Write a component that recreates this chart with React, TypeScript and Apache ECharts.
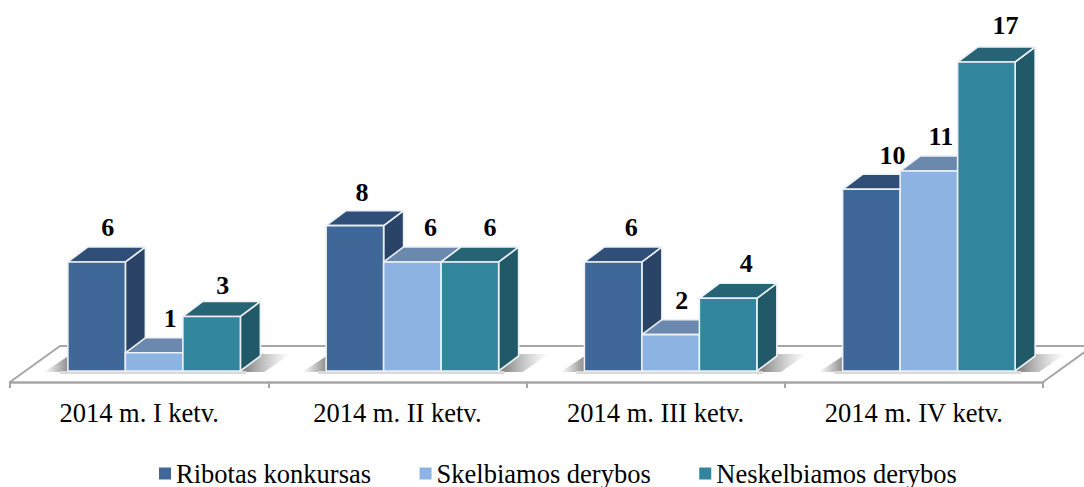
import React, { useEffect, useRef } from "react";
import * as echarts from "echarts";

const categories = ["2014 m. I ketv.", "2014 m. II ketv.", "2014 m. III ketv.", "2014 m. IV ketv."];
const seriesNames = ["Ribotas konkursas", "Skelbiamos derybos", "Neskelbiamos derybos"];
const ribotas = [6, 8, 6, 10];
const skelbiamos = [1, 6, 2, 11];
const neskelbiamos = [3, 6, 4, 17];

const frontColors = ["#3F6797", "#8DB3E2", "#31859C"];
const sideColors = ["#2A4467", "#6B88AE", "#215968"];
const topColors = ["#2F4F78", "#6B88AE", "#266475"];
// horizontal and vertical shifts of each value label from its default place
const labelNudgesX = [
  [11, 7, 18, 21],
  [16, 18, 11, 12],
  [11, 20, 18, 19],
];
const labelNudgesY = [
  [0, 1, 0, 0],
  [0, 0, 0, -1],
  [3, 0, -1, -3],
];

const FONT = '"Liberation Serif", "Times New Roman", serif';
const BAR_W = 57.5;
const DX = 20;
const DY = 15;
const GROUP_SHIFT = 15;
const FLOOR_FRONT = 11;
const FLOOR_BACK = 25;
const FLOOR_SKEW = 50;
const EDGE = "#EDF1F5";

const fade = (from: string, to: string) => ({
  type: "linear", x: 0, y: 0, x2: 1, y2: 0,
  colorStops: [{ offset: 0, color: from }, { offset: 1, color: to }],
});

const renderBar = (seriesIndex: number) => (params: any, api: any) => {
  const cat = api.value(0);
  const val = api.value(1);
  const [cx, top] = api.coord([cat, val]);
  const [, base] = api.coord([cat, 0]);
  const left = cx + GROUP_SHIFT - 1.5 * BAR_W + seriesIndex * BAR_W;
  const right = left + BAR_W;
  const edge = { stroke: EDGE, lineWidth: 1.6, lineJoin: "round" };
  return {
    type: "group",
    children: [
      {
        type: "polygon",
        shape: { points: [[right, top], [right + DX, top - DY], [right + DX, base - DY], [right, base]] },
        style: { fill: sideColors[seriesIndex], ...edge },
      },
      {
        type: "polygon",
        shape: { points: [[left, top], [right, top], [right + DX, top - DY], [left + DX, top - DY]] },
        style: { fill: topColors[seriesIndex], ...edge },
      },
      {
        type: "rect",
        shape: { x: left, y: top, width: BAR_W, height: base - top },
        style: { fill: frontColors[seriesIndex], ...edge },
      },
      {
        type: "text",
        z2: 100,
        style: {
          x: left + BAR_W / 2 + labelNudgesX[seriesIndex][cat],
          y: top - DY - 19 + labelNudgesY[seriesIndex][cat],
          text: String(val),
          fill: "#000",
          font: `bold 26px ${FONT}`,
          align: "center",
          verticalAlign: "middle",
        },
      },
    ],
  };
};

const renderFloor = (params: any, api: any) => {
  const cs = params.coordSys;
  const front = cs.y + cs.height + FLOOR_FRONT;
  const back = cs.y + cs.height - FLOOR_BACK;
  const l = cs.x;
  const r = cs.x + cs.width;
  const stroke = { stroke: "#A6A6A6", lineWidth: 2 };
  return {
    type: "group",
    children: [
      { type: "line", shape: { x1: l, y1: front, x2: l + FLOOR_SKEW, y2: back }, style: stroke },
      { type: "line", shape: { x1: l + FLOOR_SKEW, y1: back, x2: r + FLOOR_SKEW, y2: back }, style: stroke },
      { type: "line", shape: { x1: r, y1: front, x2: r + FLOOR_SKEW, y2: back }, style: stroke },
    ],
  };
};

const renderShadow = (params: any, api: any) => {
  const cat = api.value(0);
  const [cx, base] = api.coord([cat, 0]);
  const left = cx + GROUP_SHIFT - 1.5 * BAR_W;
  const right = left + 3 * BAR_W;
  return {
    type: "group",
    children: [
      {
        type: "polygon",
        shape: { points: [[left - 24, base + 1], [left + 2, base + 1], [left + 2, base - 16]] },
        style: { fill: fade("rgba(120,120,120,0)", "rgba(110,110,110,0.85)") },
      },
      {
        type: "polygon",
        shape: { points: [[right - 2, base + 1], [right + DX, base - DY - 2], [right + 50, base - DY - 2], [right + 24, base + 1]] },
        style: { fill: fade("rgba(100,100,100,0.95)", "rgba(160,160,160,0)") },
      },
      {
        type: "rect",
        shape: { x: left - 8, y: base, width: 3 * BAR_W + 14, height: 3 },
        style: { fill: "#DADADA" },
      },
    ],
  };
};

const toRows = (values: number[]) => values.map((v, i) => [i, v]);

export default function App() {
  const ref = useRef<HTMLDivElement>(null);
  useEffect(() => {
    const chart = echarts.init(ref.current!, undefined, { renderer: "svg" });
    const allValues = [ribotas, skelbiamos, neskelbiamos];
    chart.setOption({
      animation: false,
      backgroundColor: "#fff",
      grid: { left: 10, right: 41, top: 62, bottom: 116, containLabel: false },
      legend: {
        data: seriesNames,
        left: 159,
        top: 460,
        icon: "rect",
        itemWidth: 12,
        itemHeight: 12,
        itemGap: 48.5,
        padding: 0,
        textStyle: { fontFamily: FONT, fontSize: 26.5, color: "#000" },
      },
      xAxis: {
        type: "category",
        data: categories,
        offset: FLOOR_FRONT,
        axisLine: { onZero: false, lineStyle: { color: "#A6A6A6", width: 2.5 } },
        axisTick: { show: true, alignWithLabel: false, length: 6, lineStyle: { color: "#A6A6A6", width: 2 } },
        axisLabel: { margin: 17, fontFamily: FONT, fontSize: 26.5, color: "#000", interval: 0 },
      },
      yAxis: { type: "value", min: 0, max: 17, show: false, splitLine: { show: false } },
      series: [
        {
          name: "floor",
          type: "custom",
          coordinateSystem: "cartesian2d",
          data: [[0, 0]],
          encode: { x: 0, y: 1 },
          renderItem: renderFloor,
          silent: true,
          z: 1,
        },
        {
          name: "shadow",
          type: "custom",
          coordinateSystem: "cartesian2d",
          data: categories.map((_, i) => [i, 0]),
          encode: { x: 0, y: 1 },
          renderItem: renderShadow,
          silent: true,
          z: 1,
        },
        ...seriesNames.map((name, i) => ({
          name,
          type: "custom",
          coordinateSystem: "cartesian2d",
          data: toRows(allValues[i]),
          encode: { x: 0, y: 1 },
          itemStyle: { color: frontColors[i] },
          renderItem: renderBar(i),
          z: 2,
        })),
      ],
    });
    return () => chart.dispose();
  }, []);
  return <div ref={ref} style={{ position: "fixed", left: 0, top: 0, width: 1084, height: 487 }} />;
}
